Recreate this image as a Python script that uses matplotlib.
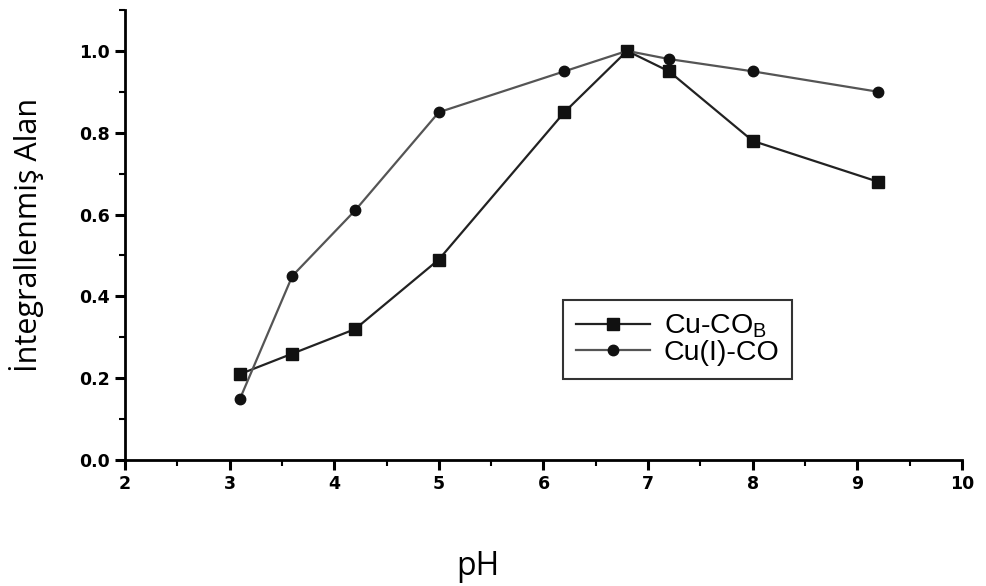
import numpy as np
import matplotlib
matplotlib.use('Agg')
import matplotlib.pyplot as plt
from matplotlib.ticker import MultipleLocator

# pH values and normalised integrated areas
ph = [3.1, 3.6, 4.2, 5.0, 6.2, 6.8, 7.2, 8.0, 9.2]
cu_cob = [0.21, 0.26, 0.32, 0.49, 0.85, 1.00, 0.95, 0.78, 0.68]
cu_i_co = [0.15, 0.45, 0.61, 0.85, 0.95, 1.00, 0.98, 0.95, 0.90]

xticks = [2, 3, 4, 5, 6, 7, 8, 9, 10]
yticks = [0.0, 0.2, 0.4, 0.6, 0.8, 1.0]

fig = plt.figure(figsize=(9.87, 5.86), dpi=100)
ax = fig.add_axes([0.1266, 0.215, 0.848, 0.768])

ax.plot(ph, cu_cob, color='#222222', lw=1.6, marker='s', ms=8.5,
        mfc='#111111', mec='#111111', label=r'Cu-CO$_{\mathregular{B}}$')
ax.plot(ph, cu_i_co, color='#555555', lw=1.6, marker='o', ms=7.5,
        mfc='#111111', mec='#111111', label='Cu(I)-CO')

ax.set_xlim(2, 10)
ax.set_ylim(0, 1.1)
ax.set_xticks(xticks)
ax.set_yticks(yticks)
ax.set_yticklabels(['%.1f' % v for v in yticks])
ax.xaxis.set_minor_locator(MultipleLocator(0.5))
ax.yaxis.set_minor_locator(MultipleLocator(0.1))

for s in ['top', 'right']:
    ax.spines[s].set_visible(False)
for s in ['left', 'bottom']:
    ax.spines[s].set_linewidth(2)
ax.tick_params(which='major', direction='out', length=7, width=2.2,
               labelsize=12.5, pad=4)
ax.tick_params(which='minor', direction='out', length=4, width=1.5)
for lbl in ax.get_xticklabels() + ax.get_yticklabels():
    lbl.set_fontfamily('DejaVu Sans')
    lbl.set_fontweight('bold')

fig.text(0.027, 0.599, 'İntegrallenmiş Alan', family='Open Sans',
         fontsize=22, rotation=90, ha='center', va='center')
fig.text(0.484, 0.033, 'pH', family='Open Sans', fontsize=23,
         ha='center', va='center')

leg = ax.legend(loc='upper left', bbox_to_anchor=(0.523, 0.356),
                prop={'family': 'Liberation Sans', 'size': 20.5},
                frameon=True, fancybox=False, edgecolor='black',
                handlelength=2.6, handletextpad=0.5, borderpad=0.45,
                labelspacing=0.0, borderaxespad=0)
leg.get_frame().set_linewidth(1.5)

fig.savefig('out.png', dpi=100)
